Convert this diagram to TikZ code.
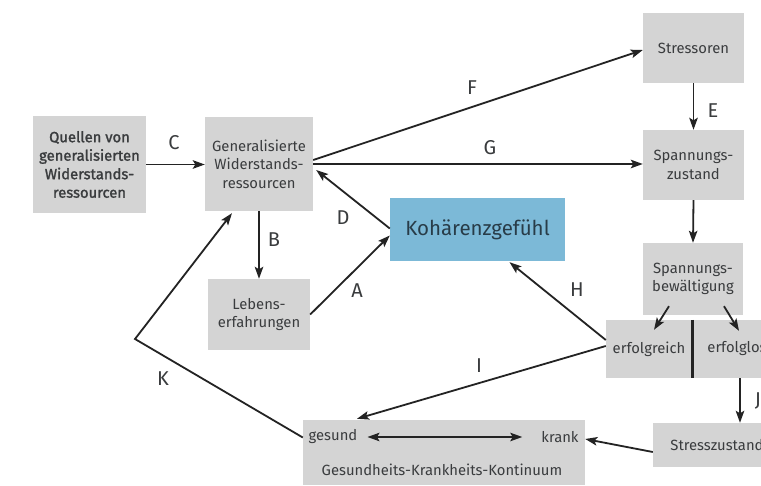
\documentclass[tikz,border=0pt]{standalone}
\usepackage{fontspec}
\setmainfont{Fira Sans}
\newfontfamily\semibold{Fira Sans}[FakeBold=1.6]
\usetikzlibrary{arrows.meta}
\definecolor{boxgray}{RGB}{212,212,212}
\definecolor{cohblue}{RGB}{124,185,215}
\definecolor{txt}{RGB}{58,60,62}
\definecolor{ink}{RGB}{35,35,35}
\newcommand\boxfont{\fontsize{14.8}{18.5}\selectfont}
\newcommand\lblfont{\fontsize{20}{22}\selectfont}
\tikzset{
  >={Stealth[length=12pt,width=8.5pt,inset=2.5pt]},
  box/.style={fill=boxgray, text=txt, inner sep=0pt, align=center, font=\boxfont},
  lbl/.style={text=txt, inner sep=0pt, font=\lblfont},
  conn/.style={draw=ink, line width=1.8pt, ->},
}
\begin{document}
\begin{tikzpicture}[x=1pt,y=-1pt]
\useasboundingbox (0,0) rectangle (761,486);
\fill[white] (0,0) rectangle (761,486);
\clip (0,0) rectangle (761,486);

% boxes
\node[box, minimum width=113pt, minimum height=97pt, font=\boxfont\semibold] (Q) at (89.5,164.5)
  {Quellen von\\generalisierten\\Widerstands-\\ressourcen};
\node[box, minimum width=108pt, minimum height=94pt] (G) at (259,164)
  {Generalisierte\\Widerstands-\\ressourcen};
\node[box, minimum width=102pt, minimum height=71pt] (L) at (259,314.5)
  {Lebens-\\erfahrungen};
\node[box, minimum width=175pt, minimum height=63pt, fill=cohblue, text={rgb,255:red,40;green,60;blue,72},
  font=\fontsize{20.5}{24}\selectfont] (K) at (477.5,229.5) {Kohärenzgefühl};
\node[box, minimum width=101pt, minimum height=70pt] (S) at (693.5,48) {Stressoren};
\node[box, minimum width=101pt, minimum height=70pt] (Spz) at (693.5,165) {Spannungs-\\zustand};
\node[box, minimum width=100pt, minimum height=72pt] (Bew) at (693,279) {Spannungs-\\bewältigung};
\node[box, minimum width=86pt, minimum height=58pt] (ER) at (649,349) {erfolgreich};
\node[box, minimum width=90pt, minimum height=58pt] (EL) at (737,349) {erfolglos};
\node[box, minimum width=128pt, minimum height=44pt] (SZ) at (717,445) {Stresszustand};
\node[box, minimum width=282pt, minimum height=65pt] (GK) at (444,452.5) {};
\node[text=txt, inner sep=0pt, font=\boxfont] (ges) at (333,437) {gesund};
\node[text=txt, inner sep=0pt, font=\boxfont] (kr) at (560,437) {krank};
\node[text=txt, inner sep=0pt, font=\boxfont] (kont) at (442,470) {Gesundheits-Krankheits-Kontinuum};

% the outcome boxes run on past the edge
\fill[boxgray] (EL.north east) rectangle ([xshift=20pt]EL.south east);
\fill[boxgray] (SZ.north east) rectangle ([xshift=20pt]SZ.south east);

% divider between the two outcomes
\draw[ink, line width=3pt] (ER.north east) -- (ER.south east);

% bend point of K
\coordinate (kc) at (135,339);

% connectors
\draw[conn] (Q.east) -- (Q.east -| G.west);
\draw[conn] ([yshift=4pt]G.east) -- ([yshift=-2pt]S.west);
\draw[conn] (G.east) -- (G.east -| Spz.west);
\draw[conn] ([yshift=1pt]K.west) -- ([shift={(3pt,-6pt)}]G.east);
\draw[conn] (L.east) -- ([yshift=-6pt]K.west);
\draw[conn] (G.south) -- (L.north);
\draw[conn] (S.south) -- (Spz.north);
\draw[conn] (Spz.south) -- (Bew.north);
\draw[conn] ([shift={(-24pt,9pt)}]Bew.south) -- ([shift={(5pt,-10pt)}]ER.north);
\draw[conn] ([shift={(31pt,9pt)}]Bew.south) -- ([shift={(2pt,-11pt)}]EL.north);
\draw[conn] ([yshift=9pt]ER.west) -- ([shift={(32pt,-1pt)}]K.south);
\draw[conn] ([yshift=3pt]ER.west) -- ([shift={(-87pt,1pt)}]GK.north);
\draw[conn] ([xshift=3pt]EL.south) -- ([xshift=3pt]EL.south |- SZ.north);
\draw[conn] ([yshift=-7pt]SZ.west) -- ([yshift=13.5pt]GK.east);
\draw[conn] ([yshift=15pt]GK.west) -- (kc) -- ([shift={(-27pt,-2pt)}]G.south);
\draw[draw=ink, line width=1.8pt, <->, shorten <=10pt, shorten >=19pt] (ges.east) -- (kr.west);

% connector labels
\node[lbl] (lC) at (174,143) {C};
\node[lbl] (lF) at (472,88) {F};
\node[lbl] (lG) at (490,148) {G};
\node[lbl] (lD) at (343,218) {D};
\node[lbl] (lA) at (357,291) {A};
\node[lbl] (lB) at (274,240) {B};
\node[lbl] (lE) at (713,111) {E};
\node[lbl] (lH) at (577,290) {H};
\node[lbl] (lI) at (479,366) {I};
\node[lbl] (lJ) at (758,401) {J};
\node[lbl] (lK) at (163,379) {K};
\end{tikzpicture}
\end{document}
